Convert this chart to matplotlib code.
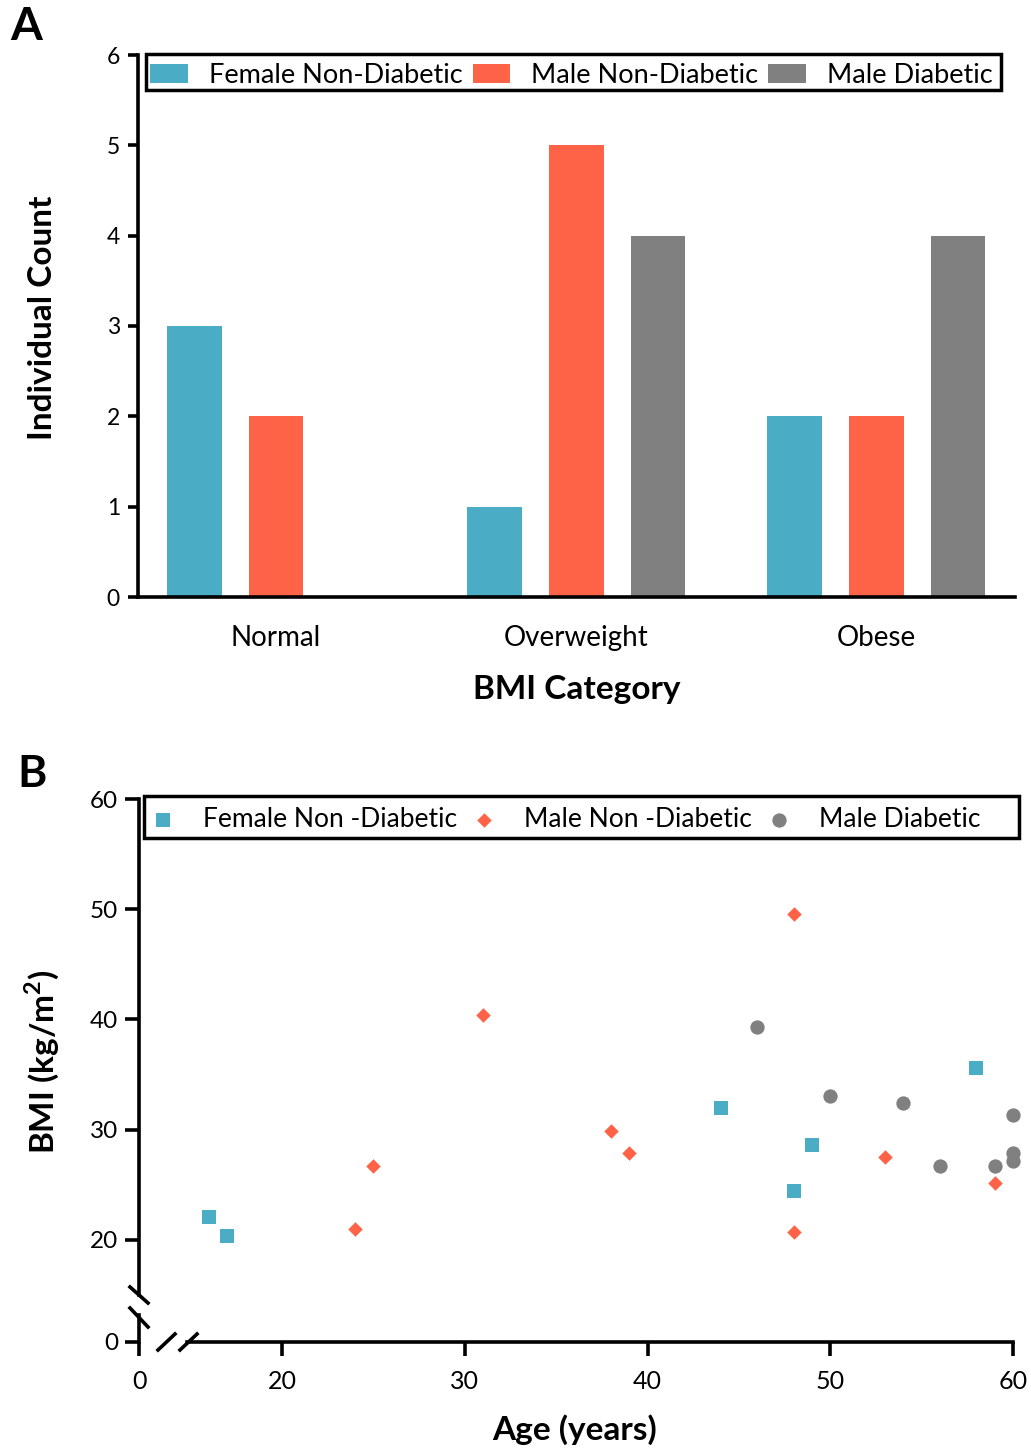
import numpy as np
import matplotlib
matplotlib.use("Agg")
import matplotlib.pyplot as plt
from matplotlib.patches import Rectangle
from matplotlib.lines import Line2D

plt.rcParams['font.family'] = ['Lato', 'DejaVu Sans']
plt.rcParams['mathtext.fontset'] = 'custom'
plt.rcParams['mathtext.rm'] = 'Lato'
plt.rcParams['mathtext.bf'] = 'Lato:bold'

# ---------------- data ----------------
categories = ['Normal', 'Overweight', 'Obese']
series_a = ['Female Non-Diabetic', 'Male Non-Diabetic', 'Male Diabetic']
series_b = ['Female Non -Diabetic', 'Male Non -Diabetic', 'Male Diabetic']
female_nd_counts = [3, 1, 2]
male_nd_counts = [2, 5, 2]
male_d_counts = [0, 4, 4]
count_ticks = [0, 1, 2, 3, 4, 5, 6]

female_nd_age = [16, 17, 44, 49, 48, 58]
female_nd_bmi = [22.1, 20.4, 32.0, 28.6, 24.4, 35.6]
male_nd_age = [48, 31, 38, 39, 25, 24, 48, 53, 59]
male_nd_bmi = [49.6, 40.4, 29.9, 27.9, 26.7, 21.0, 20.7, 27.5, 25.2]
male_d_age = [46, 50, 54, 60, 60, 60, 59, 56]
male_d_bmi = [39.3, 33.1, 32.4, 31.3, 27.9, 27.2, 26.7, 26.7]
age_ticks = [0, 20, 30, 40, 50, 60]
bmi_ticks = [0, 20, 30, 40, 50, 60]

BLUE = '#4BACC6'
RED = '#FF6347'
GRAY = '#808080'

W, H = 1031, 1452
fig = plt.figure(figsize=(W / 100, H / 100), dpi=100)


def px_rect(l, t, r, b):
    return [l / W, (H - b) / H, (r - l) / W, (b - t) / H]


LW = 2.6

# ---------------- Panel A ----------------
axA = fig.add_axes(px_rect(138, 55, 1015, 597))
x = np.arange(len(categories))
off, bw = 0.273, 0.183
axA.bar(x - off, female_nd_counts, bw, color=BLUE, label=series_a[0])
axA.bar(x, male_nd_counts, bw, color=RED, label=series_a[1])
axA.bar(x + off, male_d_counts, bw, color=GRAY, label=series_a[2])
axA.set_xlim(-0.46, 2.463)
axA.set_ylim(0, 6)
axA.set_yticks(count_ticks)
axA.set_xticks(x, categories)
for s in ['top', 'right']:
    axA.spines[s].set_visible(False)
for s in ['left', 'bottom']:
    axA.spines[s].set_linewidth(LW)
axA.tick_params(axis='y', length=7, width=LW, labelsize=16.5, pad=6)
axA.tick_params(axis='x', length=0, labelsize=20, pad=20)

axA.legend(ncol=3, loc='upper left', mode='expand',
           bbox_to_anchor=((150 - 138) / 877, 0, (993 - 150) / 877,
                           (597 - 63) / 542),
           borderaxespad=0, borderpad=0, frameon=False,
           fontsize=19.5, handlelength=1.4, handleheight=0.66,
           handletextpad=0.77, columnspacing=0.3)
axA.add_patch(Rectangle(((146 - 138) / 877, (597 - 90) / 542),
                        (1001 - 146) / 877, 36 / 542,
                        transform=axA.transAxes, fill=False,
                        edgecolor='black', lw=2.5, clip_on=False))

fig.text(43 / W, 1 - 318 / H, 'Individual Count', rotation=90, ha='center',
         va='center', fontsize=24, fontweight='bold')
fig.text(577 / W, 1 - 689 / H, 'BMI Category', ha='center', va='center',
         fontsize=24, fontweight='bold')
fig.text(10 / W, 1 - 40 / H, 'A', ha='left', va='baseline', fontsize=33,
         fontweight='bold')

# ---------------- Panel B ----------------
axB = fig.add_axes(px_rect(139, 799, 1013, 1342))


def broken(brk, zero_lin):
    k = (brk - zero_lin) / brk

    def fwd(v):
        v = np.asarray(v, dtype=float)
        return np.where(v >= brk, v, zero_lin + v * k)

    def inv(u):
        u = np.asarray(u, dtype=float)
        return np.where(u >= brk, u, (u - zero_lin) / k)
    return fwd, inv


axB.set_xscale('function', functions=broken(15, 12.17))
axB.set_yscale('function', functions=broken(15, 10.74))

axB.scatter(female_nd_age, female_nd_bmi, marker='s', s=10.4 ** 2, color=BLUE,
            linewidths=0, clip_on=False, zorder=3, label=series_b[0])
axB.scatter(male_nd_age, male_nd_bmi, marker='D', s=7.4 ** 2, color=RED,
            linewidths=0, clip_on=False, zorder=3, label=series_b[1])
axB.scatter(male_d_age, male_d_bmi, marker='o', s=10.3 ** 2, color=GRAY,
            linewidths=0, clip_on=False, zorder=3, label=series_b[2])

axB.set_xlim(0, 60)
axB.set_ylim(0, 60)
axB.set_xticks(age_ticks)
axB.set_yticks(bmi_ticks)
for s in ['top', 'right']:
    axB.spines[s].set_visible(False)
for s in ['left', 'bottom']:
    axB.spines[s].set_linewidth(LW)
axB.spines['left'].set_bounds(15, 60)
axB.spines['bottom'].set_bounds(13.9, 60)
axB.tick_params(axis='y', length=10, width=LW, labelsize=17.5, pad=5)
axB.tick_params(axis='x', length=10, width=LW, labelsize=18, pad=10)

# lower piece of the broken y axis
axB.add_line(Line2D([0, 0], [0, 27 / 543], transform=axB.transAxes,
                    color='black', lw=LW, clip_on=False))
# break marks
for (x0, y0, x1, y1) in [(158, 1350, 175, 1334), (180, 1350, 197, 1334),
                         (130, 1287, 148, 1303), (130, 1308, 148, 1327)]:
    axB.add_line(Line2D([(x0 - 139) / 874, (x1 - 139) / 874],
                        [(1342 - y0) / 543, (1342 - y1) / 543],
                        transform=axB.transAxes, color='black', lw=LW,
                        clip_on=False))

axB.legend(ncol=3, loc='upper left',
           bbox_to_anchor=((148 - 139) / 874, (1342 - 807) / 543),
           borderaxespad=0, borderpad=0, frameon=False, fontsize=19,
           handlelength=1.14, handletextpad=0.95, columnspacing=0.45,
           scatterpoints=1)
axB.add_patch(Rectangle(((144 - 139) / 874, (1342 - 838) / 543), 875 / 874,
                        42 / 543, transform=axB.transAxes, fill=False,
                        edgecolor='black', lw=2.5, clip_on=False))

fig.text(42 / W, 1 - 1062 / H, r'BMI (kg/m$^{\mathbf{2}}$)', rotation=90,
         ha='center', va='center', fontsize=24, fontweight='bold')
fig.text(575 / W, 1 - 1430 / H, 'Age (years)', ha='center', va='center',
         fontsize=24, fontweight='bold')
fig.text(17 / W, 1 - 787 / H, 'B', ha='left', va='baseline', fontsize=32,
         fontweight='bold')

fig.savefig('out.png', dpi=100)
